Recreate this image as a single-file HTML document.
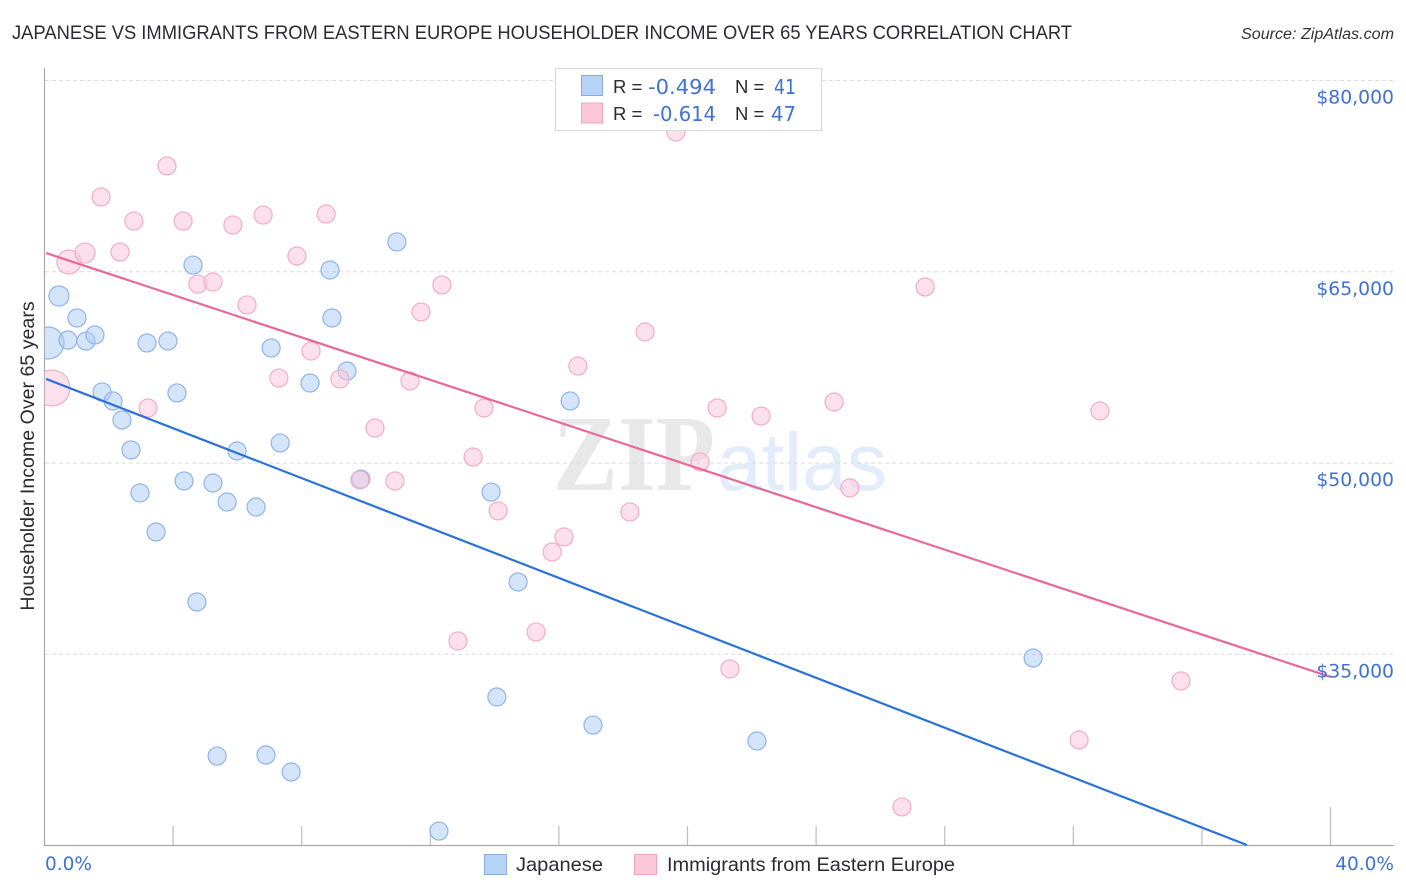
<!DOCTYPE html>
<html lang="en">
<head>
<meta charset="utf-8">
<title>Japanese vs Immigrants from Eastern Europe Householder Income Over 65 Years Correlation Chart</title>
<style>
html,body{margin:0;padding:0;background:#fff;width:1406px;height:892px;overflow:hidden}
svg{display:block;position:absolute;left:0;top:0}
text{font-family:"Liberation Sans",sans-serif}
.val{font-family:"DejaVu Sans","Liberation Sans",sans-serif;fill:#3f72d4}
</style>
</head>
<body>
<svg id="chart" width="1406" height="892" viewBox="0 0 1406 892" xmlns="http://www.w3.org/2000/svg">
  <defs>
    <clipPath id="plot-clip"><rect x="44.5" y="68" width="1350" height="778"/></clipPath>
  </defs>
  <text x="12" y="39" font-size="19.5" fill="#2b2b33" textLength="1060" lengthAdjust="spacingAndGlyphs">JAPANESE VS IMMIGRANTS FROM EASTERN EUROPE HOUSEHOLDER INCOME OVER 65 YEARS CORRELATION CHART</text>
  <text x="1241" y="39" font-size="15.5" font-style="italic" fill="#333" textLength="153" lengthAdjust="spacingAndGlyphs">Source: ZipAtlas.com</text>
  <g>
    <text x="553" y="490" font-size="108" font-weight="bold" fill="#e8e8e8" style="font-family:'Liberation Serif',serif" textLength="162" lengthAdjust="spacingAndGlyphs">ZIP</text>
    <text x="717" y="490" font-size="82" fill="#e2ecfa" textLength="170" lengthAdjust="spacingAndGlyphs">atlas</text>
  </g>
  <g id="grid"></g>
  <g id="axes"></g>
  <g id="pts" clip-path="url(#plot-clip)"></g>
  <g id="lines"></g>
  <g id="ylabels"></g>
  <text transform="translate(34,456) rotate(-90)" font-size="19.6" fill="#2b2b33" text-anchor="middle">Householder Income Over 65 years</text>
  <text class="val" x="45" y="870" font-size="18.5">0.0%</text>
  <text class="val" x="1394" y="870" font-size="18.5" text-anchor="end">40.0%</text>

  <g>
    <rect x="555.5" y="68.5" width="266" height="62" fill="#fff" stroke="#d8d8d8"/>
    <rect x="581.5" y="75.5" width="21" height="20" fill="#b6d2f7" stroke="#85aee6"/>
    <rect x="581.5" y="103" width="21" height="20" fill="#fcc8d9" stroke="#f2a5bf"/>
    <text x="613" y="93" font-size="18.5" fill="#2b2b33">R =</text>
    <text class="val" x="648" y="94" font-size="20.5" textLength="68" lengthAdjust="spacingAndGlyphs">-0.494</text>
    <text x="735" y="93" font-size="18.5" fill="#2b2b33">N =</text>
    <text class="val" x="774" y="94" font-size="20.5" textLength="22" lengthAdjust="spacingAndGlyphs">41</text>
    <text x="613" y="120" font-size="18.5" fill="#2b2b33">R =</text>
    <text class="val" x="653" y="121" font-size="20.5" textLength="63" lengthAdjust="spacingAndGlyphs">-0.614</text>
    <text x="735" y="120" font-size="18.5" fill="#2b2b33">N =</text>
    <text class="val" x="771" y="121" font-size="20.5" textLength="25" lengthAdjust="spacingAndGlyphs">47</text>
  </g>

  <g>
    <rect x="484.5" y="854.5" width="22" height="20" fill="#b6d2f7" stroke="#85aee6"/>
    <text x="516" y="871" font-size="19.5" fill="#2b2b33" textLength="87" lengthAdjust="spacingAndGlyphs">Japanese</text>
    <rect x="634.5" y="854.5" width="22" height="20" fill="#fcc8d9" stroke="#f2a5bf"/>
    <text x="667" y="871" font-size="19" fill="#2b2b33" textLength="288" lengthAdjust="spacingAndGlyphs">Immigrants from Eastern Europe</text>
  </g>
</svg>
<script>
var yTicks = [80000, 65000, 50000, 35000];
var yTickLabels = ['$80,000', '$65,000', '$50,000', '$35,000'];
var xTicks = [0, 4, 8, 12, 16, 20, 24, 28, 32, 36, 40];

var japaneseX = [0.11,0.45,0.73,1.01,1.29,1.57,1.79,2.13,2.41,2.69,2.97,3.19,3.47,3.84,4.12,4.34,4.62,4.74,5.24,5.37,5.68,5.99,6.58,6.89,7.05,7.33,7.67,8.26,8.88,8.94,9.41,9.84,10.96,12.27,13.89,14.07,14.73,16.35,17.06,22.16,30.75];
var japaneseY = [59420,63100,59650,61380,59570,60050,55580,54870,53380,51030,47660,59420,44600,59570,55500,48600,65530,39110,48440,27030,46950,50950,46560,27110,59030,51580,25780,56280,65140,61380,57220,48750,67340,21150,47730,31660,40680,54870,29460,28210,34720];
var japaneseWeight = [16,10,9,9,9,9,9,9,9,9,9,9,9,9,9,9,9,9,9,9,9,9,9,9,9,9,9,9,9,9,9,9,9,9,9,9,9,9,9,9,9];

var immigrantsX = [0.23,0.76,1.26,1.76,2.35,2.78,3.22,3.81,4.31,4.77,5.24,5.86,6.30,6.80,7.29,7.85,8.29,8.76,9.19,9.81,10.28,10.90,11.37,11.71,12.36,12.86,13.33,13.67,14.11,15.29,15.79,16.16,16.59,18.21,18.68,19.64,20.39,20.92,21.32,22.29,24.56,25.05,26.67,27.39,32.18,32.83,35.35];
var immigrantsY = [55890,65770,66470,70870,66550,68980,54320,73300,68980,64040,64200,68670,62400,69450,56670,66240,58790,69530,56600,48680,52750,48600,56440,61850,63970,36050,50480,54320,46250,36760,43030,44210,57610,46170,60280,75960,50090,54320,33860,53690,54790,48050,23040,63810,28290,54090,32920];
var immigrantsWeight = [18,12,10,9,9,9,9,9,9,9,9,9,9,9,9,9,9,9,9,9,9,9,9,9,9,9,9,9,9,9,9,9,9,9,9,9,9,9,9,9,9,9,9,9,9,9,9];

var japaneseTrendX = [0.05, 37.4];
var japaneseTrendY = [56600, 20055];
var immigrantsTrendX = [0.05, 40];
var immigrantsTrendY = [66470, 33230];

var NS = 'http://www.w3.org/2000/svg';
function xScale(v) { return 44.5 + v * 32.15; }
function yScale(v) { return 80.5 + (80000 - v) / 78.41; }
function make(parent, tag, attrs) {
  var el = document.createElementNS(NS, tag);
  for (var k in attrs) { el.setAttribute(k, attrs[k]); }
  parent.appendChild(el);
  return el;
}

var grid = document.getElementById('grid');
var axes = document.getElementById('axes');
var ylabels = document.getElementById('ylabels');
var pts = document.getElementById('pts');
var lines = document.getElementById('lines');

yTicks.forEach(function (t, i) {
  var g = make(grid, 'line', {x1: 45, x2: 1394, y1: yScale(t), y2: yScale(t), stroke: '#dcdcdc', 'stroke-width': 1, 'stroke-dasharray': '4 3'});
  
  
  var l = make(ylabels, 'text', {x: 1394, y: yScale(t) + 23, 'font-size': 18.8, 'text-anchor': 'end', 'class': 'val'});
  l.textContent = yTickLabels[i];
  
  
});

xTicks.forEach(function (t, i) {
  if (i === 0) { return; }
  var top = (i === xTicks.length - 1) ? 807 : 826;
  var tk = make(axes, 'line', {x1: xScale(t), x2: xScale(t), y1: top, y2: 845, stroke: '#bdbdbd', 'stroke-width': 1.2});
  
  
});
var ya = make(axes, 'line', {x1: 44.5, x2: 44.5, y1: 68, y2: 846, stroke: '#aaaaaa', 'stroke-width': 1.2});


var xa = make(axes, 'line', {x1: 44, x2: 1394, y1: 845.5, y2: 845.5, stroke: '#aaaaaa', 'stroke-width': 1.2});



japaneseX.forEach(function (v, i) {
  var c = make(pts, 'circle', {cx: xScale(v), cy: yScale(japaneseY[i]), r: japaneseWeight[i], fill: 'rgb(170,204,244)', 'fill-opacity': 0.5, stroke: '#8fb4ea', 'stroke-width': 1.2});
  
  
});
immigrantsX.forEach(function (v, i) {
  var c = make(pts, 'circle', {cx: xScale(v), cy: yScale(immigrantsY[i]), r: immigrantsWeight[i], fill: 'rgb(250,200,220)', 'fill-opacity': 0.55, stroke: '#f0adc6', 'stroke-width': 1.2});
  
  
});

var t1 = make(lines, 'line', {x1: xScale(japaneseTrendX[0]), y1: yScale(japaneseTrendY[0]), x2: xScale(japaneseTrendX[1]), y2: yScale(japaneseTrendY[1]), stroke: '#2a72d8', 'stroke-width': 2.2});


var t2 = make(lines, 'line', {x1: xScale(immigrantsTrendX[0]), y1: yScale(immigrantsTrendY[0]), x2: xScale(immigrantsTrendX[1]), y2: yScale(immigrantsTrendY[1]), stroke: '#e8689a', 'stroke-width': 2.2});


</script>
</body>
</html>
